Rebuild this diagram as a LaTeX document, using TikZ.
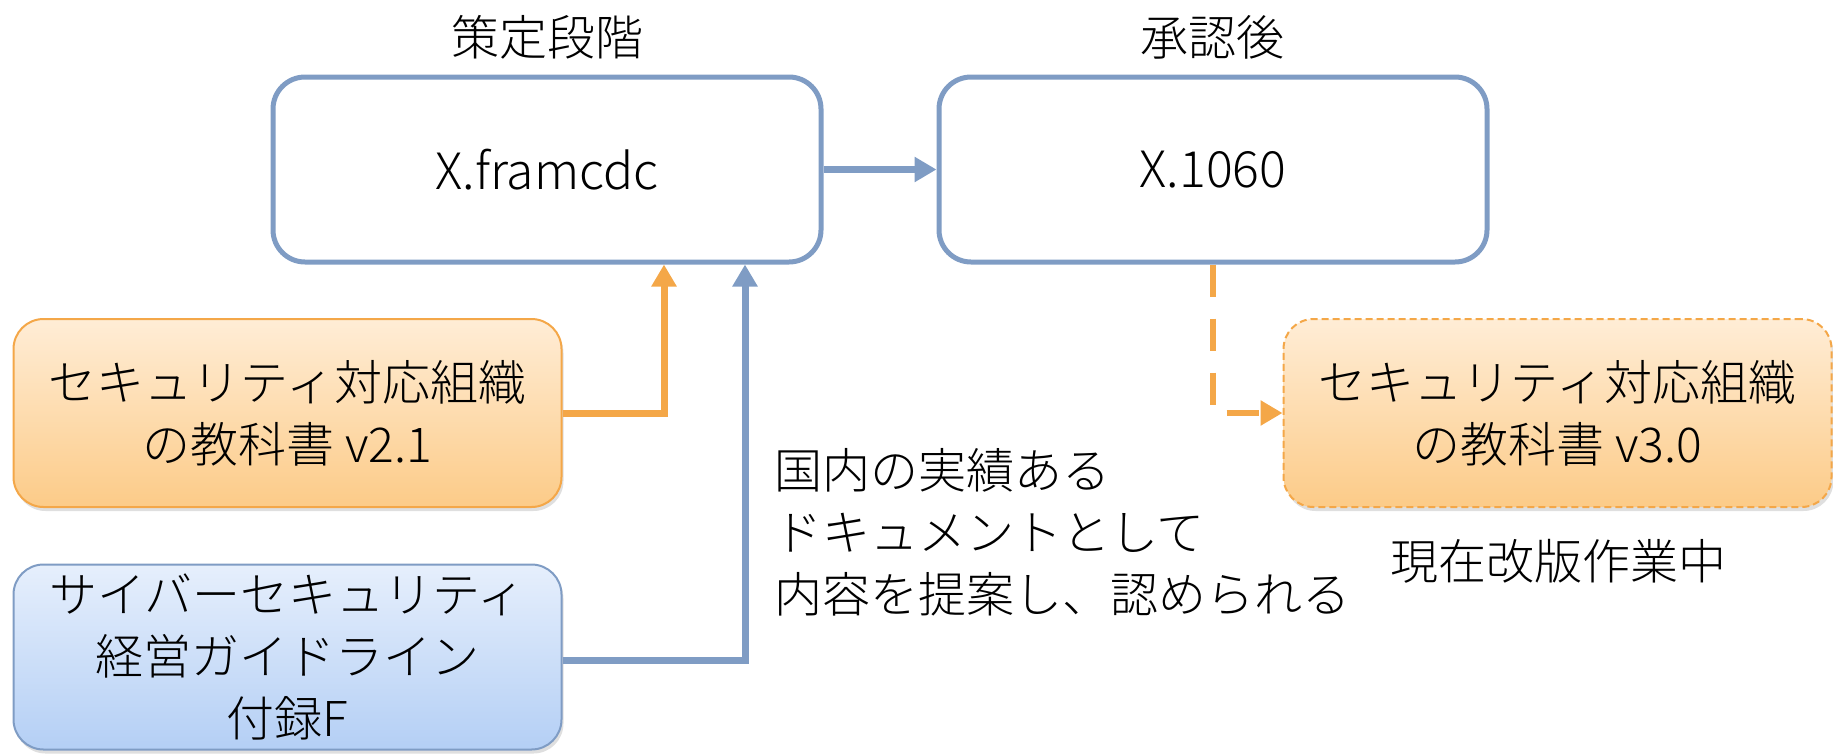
\documentclass[tikz,border=0pt]{standalone}
\usepackage{fontspec}
\setmainfont{Noto Sans CJK JP}[UprightFont=* Light]
\usetikzlibrary{arrows.meta,shadows}
\definecolor{bline}{HTML}{7F9CC4}
\definecolor{oline}{HTML}{F4A748}
\definecolor{otop}{HTML}{FFEDD6}
\definecolor{obot}{HTML}{FCCB88}
\definecolor{btop}{HTML}{E6EFFC}
\definecolor{bbot}{HTML}{B4CFF5}
\tikzset{
  mainbox/.style={draw=bline, line width=5pt, fill=white, rounded corners=32pt,
    minimum width=548pt, minimum height=185pt, align=center},
  obox/.style={draw=oline, line width=2pt, rounded corners=30pt, top color=otop, bottom color=obot,
    minimum width=548pt, minimum height=188pt, align=center,
    drop shadow={opacity=0.25, shadow xshift=2pt, shadow yshift=-4pt}},
  odbox/.style={obox, dashed, dash pattern=on 7pt off 4pt},
  bbox/.style={draw=bline, line width=2pt, rounded corners=30pt, top color=btop, bottom color=bbot,
    minimum width=548pt, minimum height=185pt, align=center,
    drop shadow={opacity=0.25, shadow xshift=2pt, shadow yshift=-4pt}},
  barr/.style={draw=bline, line width=7pt, -{Triangle[length=22pt,width=24pt]}},
  oarr/.style={draw=oline, line width=7pt, -{Triangle[length=22pt,width=24pt]}},
  odarr/.style={draw=oline, line width=6pt, dash pattern=on 32pt off 22pt, -{Triangle[length=22pt,width=24pt]}},
  lbl/.style={inner sep=0pt}
}
\begin{document}
\begin{tikzpicture}[x=1pt,y=-1pt, font=\fontsize{48}{62}\selectfont]
\useasboundingbox (0,0) rectangle (1833,753);
\node[lbl] (t1) at (547,37) {策定段階};
\node[lbl] (t2) at (1212,37) {承認後};
\node[mainbox] (f) at (547,169.5) {\fontsize{50}{60}\selectfont X.framcdc};
\node[mainbox] (x) at (1213,169.5) {\fontsize{50}{60}\selectfont X.1060};
\node[obox] (o1) at (287.5,413) {セキュリティ対応組織\\の教科書 v2.1};
\node[bbox] (b) at (287.5,657) {サイバーセキュリティ\\経営ガイドライン\\付録F};
\node[odbox] (o3) at (1557.5,413) {セキュリティ対応組織\\の教科書 v3.0};
\node[lbl, anchor=west, align=left] (txt) at (774,532) {国内の実績ある\\ドキュメントとして\\内容を提案し、認められる};
\node[lbl] (cur) at (1558,561) {現在改版作業中};
\draw[barr] (f) -- (x);
\draw[oarr] (o1.east) -| ([xshift=117pt]f.south);
\draw[barr] ([yshift=-3pt]b.east) -| ([xshift=198pt]f.south);
\draw[odarr] (x.south) |- (o3.west);
\end{tikzpicture}
\end{document}
